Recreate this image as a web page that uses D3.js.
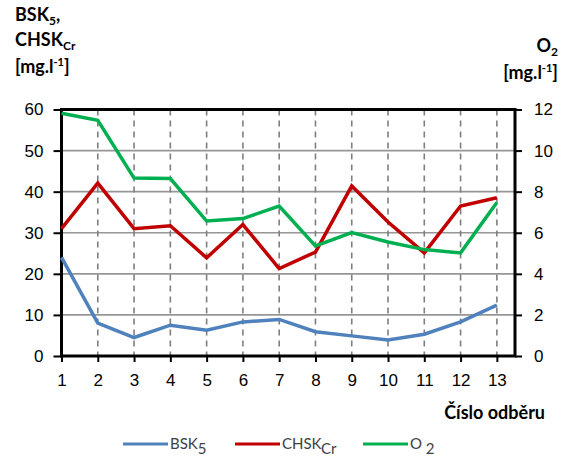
<!DOCTYPE html>
<html><head><meta charset="utf-8">
<script src="https://cdn.jsdelivr.net/npm/d3@7"></script>
<style>
body{margin:0;background:#fff;}
svg{font-family:Lato, "Open Sans", sans-serif;}
</style></head>
<body><svg id="c" width="571" height="462"></svg>
<script>
const samples = [1,2,3,4,5,6,7,8,9,10,11,12,13];
const bsk5 = [24, 8, 4.5, 7.5, 6.3, 8.3, 8.9, 5.9, 4.9, 3.9, 5.3, 8.3, 12.4];
const chskCr = [31, 42.1, 31, 31.7, 23.9, 32, 21.3, 25.3, 41.4, 32.6, 25.1, 36.5, 38.5];
const o2 = [11.82, 11.47, 8.66, 8.64, 6.57, 6.69, 7.3, 5.36, 6.01, 5.55, 5.18, 5.02, 7.47];
const leftTicks = [0,10,20,30,40,50,60];
const rightTicks = [0,2,4,6,8,10,12];

const svg = d3.select("#c");
const L = 61.5, R = 515, T = 109.5, B = 356;
const x = d3.scaleLinear().domain([1, 13.5]).range([L, R]);
const yL = d3.scaleLinear().domain([0, 60]).range([B, T]);
const yR = d3.scaleLinear().domain([0, 12]).range([B, T]);

// horizontal gridlines
svg.append("g").selectAll("line").data(leftTicks.slice(1)).join("line")
  .attr("x1", L).attr("x2", R).attr("y1", d=>yL(d)).attr("y2", d=>yL(d))
  .attr("stroke", "#969696").attr("stroke-width", 1.6);
// vertical dashed gridlines
svg.append("g").selectAll("line").data(samples.slice(1)).join("line")
  .attr("x1", d=>x(d)).attr("x2", d=>x(d)).attr("y1", T).attr("y2", B)
  .attr("stroke", "#7f7f7f").attr("stroke-width", 1.6).attr("stroke-dasharray", "6,5");

// axes
const axL = svg.append("g").attr("transform", `translate(${L},0)`)
  .call(d3.axisLeft(yL).tickValues(leftTicks).tickSize(8).tickPadding(10));
const axR = svg.append("g").attr("transform", `translate(${R},0)`)
  .call(d3.axisRight(yR).tickValues(rightTicks).tickSize(7).tickPadding(12));
const axB = svg.append("g").attr("transform", `translate(0,${B})`)
  .call(d3.axisBottom(x).tickValues(samples).tickSize(6).tickPadding(12).tickFormat(d3.format("d")));
[axL, axR, axB].forEach(a => {
  a.select(".domain").remove();
  a.selectAll(".tick line").attr("stroke", "#000").attr("stroke-width", 2);
  a.selectAll("text").attr("font-size", 17).attr("fill", "#000");
});
// frame
svg.append("rect").attr("x", L).attr("y", T).attr("width", R-L).attr("height", B-T)
  .attr("fill", "none").attr("stroke", "#000").attr("stroke-width", 3);

// lines
const series = [
  {v: bsk5, s: yL, c: "#4f81bd"},
  {v: chskCr, s: yL, c: "#c00000"},
  {v: o2, s: yR, c: "#00b050"}
];
series.forEach(se => {
  svg.append("path").datum(samples)
    .attr("fill", "none").attr("stroke", se.c).attr("stroke-width", 3.5)
    .attr("stroke-linejoin", "miter")
    .attr("d", d3.line().x(d=>x(d)).y((d,i)=>se.s(se.v[i])));
});

// titles
const tl = svg.append("g").attr("font-weight", "bold").attr("font-size", 18).attr("fill", "#000");
let t = tl.append("text").attr("x", 15).attr("y", 21);
t.append("tspan").text("BSK");
t.append("tspan").attr("font-size", 12).attr("dy", 4).text("5");
t.append("tspan").attr("dy", -4).text(",");
t = tl.append("text").attr("x", 15).attr("y", 46);
t.append("tspan").text("CHSK");
t.append("tspan").attr("font-size", 12).attr("dy", 4).text("Cr");
t = tl.append("text").attr("x", 15).attr("y", 73);
t.append("tspan").text("[mg.l");
t.append("tspan").attr("font-size", 11).attr("dy", -7).text("-1");
t.append("tspan").attr("dy", 7).text("]");

t = tl.append("text").attr("x", 558).attr("y", 52).attr("text-anchor", "end");
t.append("tspan").text("O");
t.append("tspan").attr("font-size", 12).attr("dy", 4).text("2");
t = tl.append("text").attr("x", 558).attr("y", 79).attr("text-anchor", "end");
t.append("tspan").text("[mg.l");
t.append("tspan").attr("font-size", 11).attr("dy", -7).text("-1");
t.append("tspan").attr("dy", 7).text("]");

tl.append("text").attr("x", 545).attr("y", 419).attr("text-anchor", "end").text("Číslo odběru");

// legend
const legend = [
  {n: "BSK", sub: "5", c: "#4f81bd", x0: 123},
  {n: "CHSK", sub: "Cr", c: "#c00000", x0: 235},
  {n: "O ", sub: "2", c: "#00b050", x0: 363}
];
const lg = svg.append("g");
legend.forEach(d => {
  lg.append("line").attr("x1", d.x0).attr("x2", d.x0+45).attr("y1", 444).attr("y2", 444)
    .attr("stroke", d.c).attr("stroke-width", 3);
  const tt = lg.append("text").attr("x", d.x0+47).attr("y", 449).attr("font-size", 15).attr("fill", "#404040");
  tt.append("tspan").text(d.n);
  tt.append("tspan").attr("dy", 5).attr("font-size", 15).text(d.sub);
});
</script></body></html>
